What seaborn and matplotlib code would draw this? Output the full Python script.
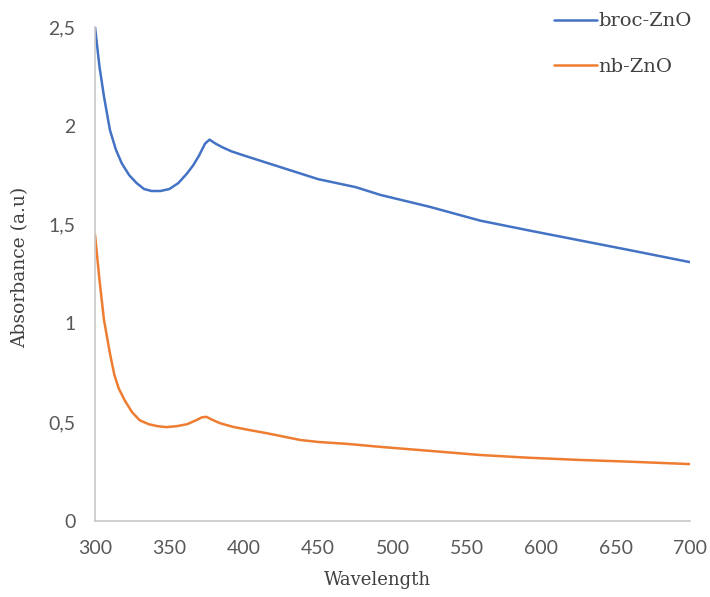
import matplotlib
matplotlib.use("Agg")
import matplotlib.pyplot as plt
import seaborn as sns
import pandas as pd
from matplotlib.ticker import FuncFormatter

# Data
broc_wl = [300, 303, 306, 310, 314, 318, 323, 328, 333, 338, 344, 350, 356, 362, 366, 370, 374, 377, 381, 386, 392, 400,
           425, 450, 475, 492, 525, 559, 592, 626, 660, 700]
broc_abs = [2.50, 2.30, 2.15, 1.98, 1.88, 1.81, 1.75, 1.71, 1.68, 1.67, 1.67, 1.68, 1.71, 1.76, 1.80, 1.85, 1.91, 1.93, 1.91, 1.89, 1.87, 1.85,
            1.79, 1.73, 1.69, 1.65, 1.59, 1.52, 1.47, 1.42, 1.37, 1.31]

nb_wl = [300, 303, 306, 310, 313, 316, 320, 325, 330, 336, 342, 348, 355, 362, 368, 372, 375, 378, 384, 393, 404, 415,
         438, 450, 470, 492, 525, 559, 592, 626, 660, 700]
nb_abs = [1.45, 1.22, 1.02, 0.85, 0.74, 0.67, 0.61, 0.55, 0.51, 0.49, 0.48, 0.475, 0.48, 0.49, 0.51, 0.525, 0.527, 0.515, 0.495, 0.476, 0.46, 0.445,
          0.41, 0.40, 0.39, 0.375, 0.355, 0.334, 0.32, 0.309, 0.30, 0.288]

series_names = ["broc-ZnO", "nb-ZnO"]
xticks = [300, 350, 400, 450, 500, 550, 600, 650, 700]
yticks = [0, 0.5, 1, 1.5, 2, 2.5]

df = pd.concat([
    pd.DataFrame({"Wavelength": broc_wl, "Absorbance": broc_abs, "sample": series_names[0]}),
    pd.DataFrame({"Wavelength": nb_wl, "Absorbance": nb_abs, "sample": series_names[1]}),
])

sns.set_style("white")
fig = plt.figure(figsize=(7.1, 5.97), dpi=100)
ax = fig.add_axes([95/710, 1-521/597, 595/710, 494/597])

sns.lineplot(data=df, x="Wavelength", y="Absorbance", hue="sample",
             palette=["#4472C4", "#ED7D31"], linewidth=1.8, ax=ax, sort=False)

ax.set_xlim(300, 700)
ax.set_ylim(0, 2.5)
ax.set_xticks(xticks)
ax.set_yticks(yticks)
ax.yaxis.set_major_formatter(FuncFormatter(lambda v, p: ("%g" % v).replace(".", ",")))
ax.tick_params(axis="x", length=0, labelsize=14, labelcolor="#595959", pad=14)
ax.tick_params(axis="y", length=0, labelsize=14, labelcolor="#595959", pad=14)
for lab in ax.get_xticklabels() + ax.get_yticklabels():
    lab.set_fontfamily("Lato")

for s in ["top", "right"]:
    ax.spines[s].set_visible(False)
for s in ["left", "bottom"]:
    ax.spines[s].set_color("#c8c8c8")
    ax.spines[s].set_linewidth(1.2)

ax.set_xlabel("Wavelength", fontfamily="DejaVu Serif", fontsize=13, color="#404040", va="center")
ax.set_ylabel("Absorbance (a.u)", fontfamily="DejaVu Serif", fontsize=13.5, color="#404040", va="center")
ax.xaxis.set_label_coords((377 - 95) / 595, (521 - 580) / 494)
ax.yaxis.set_label_coords((20 - 95) / 595, (521 - 267) / 494)

leg = ax.legend(loc="upper right", bbox_to_anchor=(1.032, 1.065), frameon=False,
                handlelength=2.2, handletextpad=0.05, labelspacing=1.4,
                prop={"family": "DejaVu Serif", "size": 14})
for t in leg.get_texts():
    t.set_color("#404040")

fig.savefig("out.png", dpi=100)
